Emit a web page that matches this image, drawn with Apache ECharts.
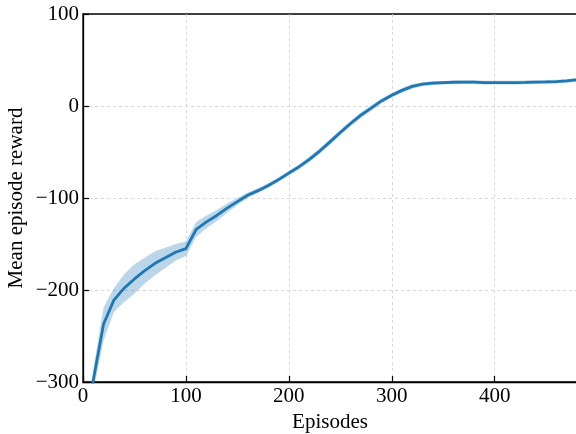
<!DOCTYPE html>
<html lang="en">
<head>
<meta charset="UTF-8">
<title>Mean episode reward</title>
<script src="https://cdn.jsdelivr.net/npm/echarts@6/dist/echarts.min.js"></script>
<style>
  html, body { margin: 0; padding: 0; background: #fff; }
</style>
</head>
<body>
<div id="main" style="width:576px;height:434px;"></div>
<script type="text/javascript">
    // episodes sampled every 10
    var episodes = [0, 10, 20, 30, 40, 50, 60, 70, 80, 90,
        100, 110, 120, 130, 140, 150, 160, 170, 180, 190,
        200, 210, 220, 230, 240, 250, 260, 270, 280, 290,
        300, 310, 320, 330, 340, 350, 360, 370, 380, 390,
        400, 410, 420, 430, 440, 450, 460, 470, 480];
    // mean reward
    var meanReward = [-380, -298, -237, -211, -198, -188, -179, -171, -165, -159,
        -155, -134, -126, -119, -111, -104, -97, -92, -86.5, -80,
        -73, -66, -58, -49, -39, -28.8, -19, -10, -2.3, 5.5,
        11.7, 17, 21.3, 23.7, 24.8, 25.3, 25.8, 26, 26, 25.5,
        25.5, 25.5, 25.5, 25.7, 26, 26.2, 26.5, 27.2, 28.5];
    // half width of the shaded band
    var spread = [15, 12, 18, 13, 15, 16, 14, 13, 11, 9,
        8, 8, 7, 6, 5, 4, 3, 2.5, 2.5, 2.5,
        2.5, 2.5, 3, 3, 3, 3, 3, 3, 3, 2.5,
        2.5, 2.5, 2.5, 2, 2, 2, 2, 2, 2, 2,
        2, 2, 2, 2, 2, 2, 2, 2, 2];
    var xTicks = [0, 100, 200, 300, 400];
    var yTicks = [-300, -200, -100, 0, 100];

    var mean = [];
    for (var i = 0; i < episodes.length; i++) {
        mean.push([episodes[i], meanReward[i]]);
    }

    var font = 'Liberation Serif';
    var grid = '#cfcfcf';

    // shaded band: one polygon, upper edge forward then lower edge back
    function renderBand(params, api) {
        if (params.dataIndex !== 0) return;
        var pts = [];
        for (var i = 0; i < episodes.length; i++) {
            pts.push(api.coord([episodes[i], meanReward[i] + spread[i]]));
        }
        for (var j = episodes.length - 1; j >= 0; j--) {
            pts.push(api.coord([episodes[j], meanReward[j] - spread[j]]));
        }
        return {
            type: 'polygon',
            shape: { points: pts },
            style: { fill: 'rgba(31,119,180,0.3)' }
        };
    }

    var myChart = echarts.init(document.getElementById('main'));
    myChart.setOption({
        animation: false,
        grid: {
            left: 83, right: -1, top: 14, bottom: 52,
            show: true, borderColor: '#000', borderWidth: 1.3,
            containLabel: false,
            outerBoundsMode: 'none'
        },
        xAxis: {
            type: 'value',
            min: 0, max: 480, interval: 100,
            name: 'Episodes',
            nameLocation: 'middle',
            nameGap: 30,
            nameMoveOverlap: false,
            nameTextStyle: { fontFamily: font, fontSize: 21, color: '#000' },
            axisLine: { show: true, onZero: false, lineStyle: { color: '#000', width: 1.3 } },
            axisTick: { show: true, inside: true, length: 6, lineStyle: { color: '#000', width: 1.2 } },
            axisLabel: {
                fontFamily: font, fontSize: 21, color: '#000', margin: 4,
                showMaxLabel: false,
                formatter: function (v) { return xTicks.indexOf(v) >= 0 ? String(v) : ''; }
            },
            splitLine: { show: true, showMinLine: false, lineStyle: { color: grid, type: [3, 3], width: 0.8 } }
        },
        yAxis: {
            type: 'value',
            min: -300, max: 100, interval: 100,
            name: 'Mean episode reward',
            nameLocation: 'middle',
            nameGap: 56,
            nameMoveOverlap: false,
            nameTextStyle: { fontFamily: font, fontSize: 21, color: '#000', verticalAlign: 'bottom' },
            axisLine: { show: true, onZero: false, lineStyle: { color: '#000', width: 1.3 } },
            axisTick: { show: true, inside: true, length: 6, lineStyle: { color: '#000', width: 1.2 } },
            axisLabel: {
                fontFamily: font, fontSize: 21, color: '#000', margin: 4,
                formatter: function (v) {
                    return yTicks.indexOf(v) >= 0 ? String(v).replace('-', '\u2212') : '';
                }
            },
            splitLine: { show: true, showMinLine: false, showMaxLine: false, lineStyle: { color: grid, type: [3, 3], width: 0.8 } }
        },
        series: [
            {
                type: 'custom',
                renderItem: renderBand,
                data: [[0, 0]],
                clip: true,
                silent: true,
                z: 2
            },
            {
                type: 'line',
                data: mean,
                symbol: 'none',
                lineStyle: { color: '#1f77b4', width: 2.8 },
                z: 5
            }
        ]
    });
</script>
</body>
</html>
